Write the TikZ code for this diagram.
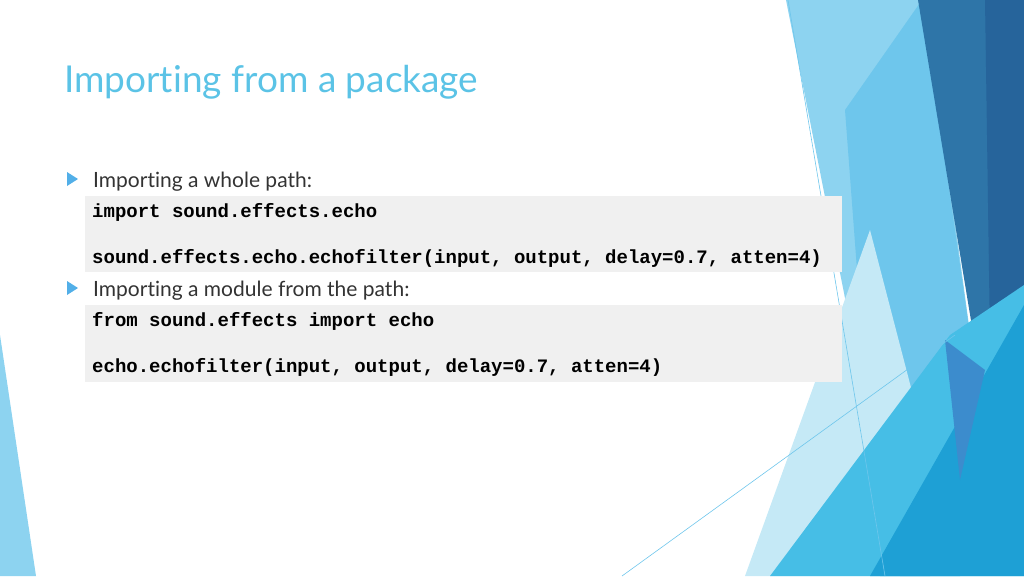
\documentclass[tikz,border=0pt]{standalone}
\usepackage{fontspec}
\setmainfont{Lato}[Ligatures=NoCommon]
\newfontfamily\codefont{Liberation Mono}
\definecolor{ttl}{HTML}{5BC3E6}
\definecolor{codebg}{HTML}{F0F0F0}
\begin{document}
\begin{tikzpicture}[x=1pt,y=-1pt,
  code/.style={anchor=base west,inner sep=0,font=\codefont\fontsize{19}{20}\selectfont\bfseries},
  bul/.style={anchor=base west,inner sep=0,font=\fontsize{21}{24}\selectfont,text=black!80},
  tri/.style={fill=ttl!90!blue}]
\useasboundingbox (0,0) rectangle (1024,576);
% decorations
\fill[color={rgb,255:red,141;green,211;blue,240}] (786,0) -- (925,0) -- (975,370) -- (960,576) -- (900,576) -- cycle;
\fill[color={rgb,255:red,110;green,198;blue,236}] (845,110) -- (922,0) -- (975,370) -- (930,576) -- (880,576) -- cycle;
\fill[color={rgb,255:red,46;green,117;blue,168}] (918,0) -- (1024,0) -- (1024,310) -- (980,375) -- cycle;
\fill[color={rgb,255:red,38;green,100;blue,155}] (985,0) -- (1024,0) -- (1024,310) -- (990,340) -- cycle;
\fill[color={rgb,255:red,197;green,233;blue,246}] (870,230) -- (960,576) -- (745,576) -- cycle;
\fill[color={rgb,255:red,70;green,190;blue,230}] (770,576) -- (950,335) -- (1024,285) -- (1024,576) -- cycle;
\fill[color={rgb,255:red,30;green,160;blue,213}] (870,576) -- (1024,305) -- (1024,576) -- cycle;
\fill[color={rgb,255:red,60;green,140;blue,205}] (945,340) -- (985,370) -- (960,480) -- cycle;
\draw[color={rgb,255:red,110;green,198;blue,236},line width=0.6] (788,0) -- (885,576);
\draw[color={rgb,255:red,110;green,198;blue,236},line width=0.6] (622,576) -- (955,335);
\fill[color={rgb,255:red,141;green,211;blue,240}] (0,335) -- (0,576) -- (36,576) -- cycle;
% title
\node[anchor=base west,inner sep=0,text=ttl,font=\fontsize{37}{42}\selectfont] (title) at (64,92) {Importing from a package};
% bullets
\fill[tri] (67,172) -- (78,179) -- (67,186) -- cycle;
\node[bul] (b1) at (93,187) {Importing a whole path:};
\fill[codebg] (85,196) rectangle (842,272);
\node[code] (c1) at (92,217) {import sound.effects.echo};
\node[code] (c2) at (92,263) {sound.effects.echo.echofilter(input, output, delay=0.7, atten=4)};
\fill[tri] (67,281) -- (78,288) -- (67,295) -- cycle;
\node[bul] (b2) at (93,296) {Importing a module from the path:};
\fill[codebg] (85,305) rectangle (842,382);
\node[code] (c3) at (92,326) {from sound.effects import echo};
\node[code] (c4) at (92,372) {echo.echofilter(input, output, delay=0.7, atten=4)};
\end{tikzpicture}
\end{document}
